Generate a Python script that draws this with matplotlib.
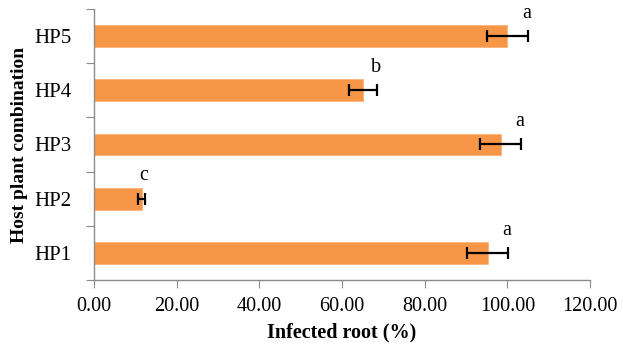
import numpy as np
import matplotlib.pyplot as plt

# host plant combinations, bottom to top
combos = ["HP1", "HP2", "HP3", "HP4", "HP5"]
infected = [95.2, 11.5, 98.4, 65.1, 100.0]
sem = [4.9, 0.9, 5.0, 3.4, 5.0]
groups = ["a", "c", "a", "b", "a"]

plt.rcParams["font.family"] = ["Liberation Serif", "DejaVu Serif"]

fig = plt.figure(figsize=(6.23, 3.46), dpi=100)
ax = fig.add_axes([0.1509, 0.1908, 0.7962, 0.7832])

y = np.arange(len(combos))
ax.barh(y, infected, height=0.4, color="#F79646", edgecolor="#FAB27A", linewidth=0.6, zorder=2)
ax.errorbar(infected, y, xerr=sem, fmt="none", ecolor="black", elinewidth=1.6,
            capsize=4, capthick=1.6, zorder=3)

# significance letters just above each error bar
for yi, m, e, g in zip(y, infected, sem, groups):
    ax.annotate(g, (m + e, yi + 0.42), xytext=(-1, 0), textcoords="offset points",
                ha="center", va="center", fontsize=14.5)

ax.set_xlim(0, 120)
ax.set_ylim(-0.5, len(combos) - 0.5)
ax.set_xticks(np.arange(0, 121, 20))
ax.set_xticklabels([f"{v:.2f}" for v in np.arange(0, 121, 20)], fontsize=14.5)

# Excel style: ticks between categories, labels at centres
ax.set_yticks(np.arange(-0.5, len(combos), 1.0))
ax.set_yticklabels([])
ax.set_yticks(y, minor=True)
ax.set_yticklabels(combos, minor=True, fontsize=15)
ax.tick_params(axis="y", which="minor", length=0, pad=16)
ax.tick_params(axis="y", which="major", length=6, color="#8c8c8c")
ax.tick_params(axis="x", length=6, color="#8c8c8c", pad=6)

for s in ["top", "right"]:
    ax.spines[s].set_visible(False)
for s in ["left", "bottom"]:
    ax.spines[s].set_color("#8c8c8c")
    ax.spines[s].set_linewidth(1.0)

ax.set_xlabel("Infected root (%)", fontsize=14.5, fontweight="bold", labelpad=5)
ax.set_ylabel("Host plant combination", fontsize=14, fontweight="bold", labelpad=5)

fig.savefig("out.png", dpi=100)
